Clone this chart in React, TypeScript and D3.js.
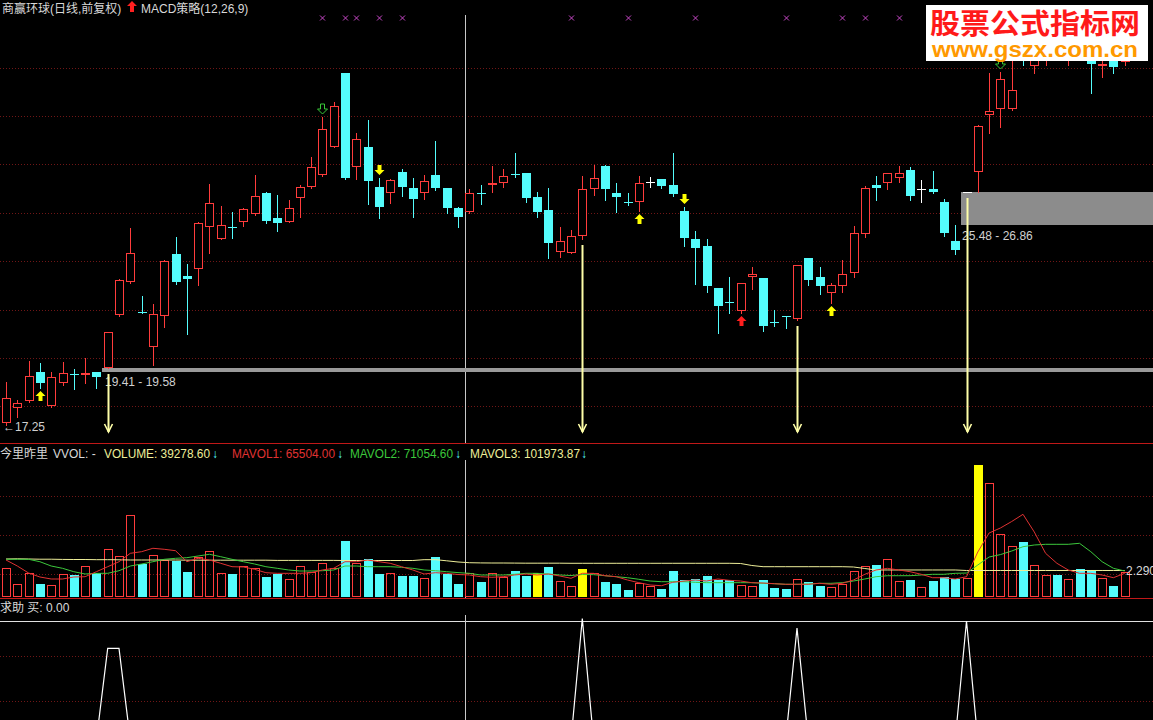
import React from 'react';
import * as d3 from 'd3';

const W = 1153;
const H = 720;

const opens = [
  17.32, 17.93, 18.22, 19.42, 18.02, 18.97, 19.34, 19.29, 19.41, 19.58,
  21.78, 23.15, 21.90, 20.47, 21.73, 24.30, 23.39, 23.68, 25.41, 24.92,
  25.42, 25.63, 25.94, 26.81, 25.77, 25.63, 26.60, 27.08, 27.55, 28.73,
  31.76, 27.90, 28.71, 27.08, 26.81, 27.67, 27.01, 26.81, 27.56, 27.01,
  26.19, 26.02, 26.83, 27.15, 27.22, 27.59, 27.63, 26.64, 26.12, 24.39,
  24.35, 25.05, 26.97, 27.93, 26.83, 26.46, 26.46, 27.26, 27.38, 27.15,
  26.07, 24.90, 24.63, 22.88, 22.30, 21.95, 23.36, 23.29, 21.50, 21.74,
  21.60, 24.12, 23.33, 22.70, 22.99, 23.50, 25.11, 27.15, 27.22, 27.42,
  27.77, 26.98, 26.97, 26.45, 24.83, 26.86, 27.70, 30.04, 30.28, 30.28,
  32.73, 32.07, 32.40, 32.81, 32.40, 32.81, 32.64, 32.07, 32.52, 32.23,
];
const highs = [
  19.01, 18.28, 19.87, 19.79, 19.42, 19.83, 19.55, 20.00, 19.41, 21.09,
  23.25, 25.37, 22.56, 22.23, 24.03, 25.01, 23.88, 25.60, 27.19, 26.28,
  26.03, 26.18, 27.56, 26.87, 26.74, 26.53, 27.15, 28.32, 29.97, 30.59,
  31.78, 29.28, 29.83, 27.42, 27.38, 27.81, 27.42, 27.56, 28.98, 27.03,
  26.25, 26.97, 27.15, 27.93, 27.80, 28.46, 27.65, 26.87, 27.01, 25.42,
  25.29, 27.52, 27.97, 27.97, 27.22, 26.81, 27.52, 27.49, 27.40, 28.46,
  26.25, 25.25, 24.90, 22.90, 23.36, 23.10, 23.77, 23.31, 21.98, 21.75,
  23.86, 24.14, 23.77, 23.11, 24.05, 25.45, 27.11, 27.52, 27.65, 27.93,
  27.88, 27.36, 27.73, 26.56, 25.48, 26.86, 29.61, 31.76, 31.83, 32.31,
  32.97, 32.93, 33.06, 33.14, 32.97, 33.06, 32.89, 32.48, 32.73, 32.73,
];
const lows = [
  17.25, 17.56, 18.20, 18.76, 17.97, 18.88, 18.72, 18.97, 18.76, 19.58,
  21.75, 23.10, 21.88, 19.71, 21.29, 23.06, 20.99, 23.02, 24.35, 24.90,
  24.96, 25.47, 25.92, 25.57, 25.26, 25.61, 25.81, 27.01, 27.53, 28.71,
  27.41, 27.38, 26.36, 25.77, 26.42, 26.71, 25.84, 26.56, 26.94, 25.98,
  25.40, 26.00, 26.35, 26.87, 27.08, 27.49, 26.46, 25.81, 24.12, 24.16,
  24.33, 24.90, 26.74, 26.53, 26.05, 26.32, 26.09, 27.08, 27.01, 26.69,
  24.63, 23.06, 22.74, 21.04, 21.85, 21.86, 22.84, 21.13, 21.32, 21.23,
  21.58, 23.02, 22.64, 22.26, 22.74, 23.33, 24.99, 26.53, 26.97, 27.28,
  26.53, 26.46, 26.83, 25.04, 24.30, 26.86, 26.87, 29.31, 29.53, 30.26,
  32.11, 31.79, 32.11, 32.40, 32.11, 32.36, 30.96, 31.60, 31.79, 32.11,
];
const closes = [
  18.35, 18.14, 19.25, 18.97, 19.21, 19.38, 19.33, 19.39, 19.21, 21.09,
  23.22, 24.35, 21.89, 21.82, 24.01, 23.15, 23.28, 25.58, 26.40, 25.49,
  25.41, 26.16, 26.69, 25.67, 25.59, 26.20, 27.08, 27.88, 29.45, 30.43,
  27.43, 29.04, 27.33, 26.25, 27.36, 27.08, 26.56, 27.33, 27.01, 26.19,
  25.84, 26.83, 26.82, 27.24, 27.52, 27.58, 26.62, 26.05, 24.76, 24.83,
  25.05, 26.97, 27.42, 26.98, 26.67, 26.45, 27.22, 27.26, 27.12, 26.78,
  24.97, 24.56, 22.99, 22.16, 22.29, 23.09, 23.47, 21.33, 21.49, 21.73,
  23.84, 23.22, 22.97, 23.02, 23.46, 25.15, 27.01, 27.04, 27.63, 27.63,
  26.71, 26.98, 26.84, 25.18, 24.46, 26.86, 29.59, 30.21, 31.52, 31.07,
  32.40, 32.64, 32.73, 32.48, 32.73, 32.48, 32.14, 32.15, 32.04, 32.52,
];

const volumes = [
  83600, 37900, 69000, 37900, 34100, 66100, 64100, 89400, 69000, 138900,
  118600, 238900, 95300, 121500, 107800, 104900, 72800, 116500, 134000, 69000,
  67000, 90300, 83600, 58300, 66100, 52400, 90300, 73700, 98200, 85400,
  163100, 99900, 110700, 67000, 69000, 61200, 61200, 54500, 116500, 67000,
  39278.6, 69000, 42800, 70800, 59100, 75700, 61200, 69000, 86500, 47500,
  32900, 81600, 69000, 43700, 37900, 20400, 39900, 32000, 23300, 75700,
  48600, 52400, 61200, 48600, 48600, 35000, 32000, 49500, 27100, 23300,
  51600, 43700, 32900, 28300, 37900, 74900, 90300, 93200, 109800, 46600,
  49500, 28300, 46600, 57400, 52400, 54500, 384500, 331200, 183500, 148600,
  159300, 92300, 64100, 64100, 51600, 81600, 78700, 54500, 32000, 72000,
];
const mavol1 = [
  107800, 90300, 69900, 58300, 52400, 52400, 58300, 59100, 73700, 88300,
  102800, 127300, 132000, 141900, 139000, 134900, 102800, 112700, 107800, 98200,
  88300, 87400, 80700, 70800, 69000, 69000, 69000, 70800, 78700, 83600,
  102800, 102800, 107800, 102800, 98200, 88300, 78700, 67000, 70800, 69000,
  65504, 64100, 59100, 57400, 59100, 64100, 67000, 64100, 67000, 61200,
  54500, 69000, 69000, 62000, 59100, 49500, 41700, 35000, 32900, 42800,
  46600, 49500, 46600, 52400, 48600, 46600, 41700, 40800, 38700, 37000,
  37000, 37000, 39900, 37000, 39900, 49500, 66100, 78700, 83600, 78700,
  73700, 66100, 56200, 56200, 52400, 59100, 131100, 186400, 201000, 219900,
  240900, 189300, 127300, 98200, 78700, 69000, 69000, 64100, 56200, 69000,
];
const mavol2 = [
  109800, 109800, 109800, 102800, 90300, 83600, 73700, 67000, 69000, 69000,
  76600, 90300, 96100, 102800, 109800, 112700, 114500, 119400, 124400, 117400,
  109800, 102800, 96100, 88300, 83600, 78700, 75700, 75700, 76600, 78700,
  90300, 90300, 88300, 88300, 88300, 86500, 83600, 78700, 76600, 73700,
  71054.6, 69000, 64100, 64100, 64100, 66100, 69000, 69000, 67000, 64100,
  62600, 65500, 65000, 62000, 59100, 56200, 51600, 46600, 44600, 44600,
  44600, 42800, 41700, 41700, 41700, 41700, 41700, 39900, 38700, 37000,
  37000, 37900, 39900, 39900, 41700, 46600, 52400, 59100, 62000, 62000,
  62000, 64100, 66100, 66100, 69000, 69900, 93200, 116500, 123500, 134000,
  146500, 151500, 153500, 153500, 153500, 156400, 132000, 102800, 83600, 75700,
];
const mavol3 = [
  110700, 111300, 110700, 110100, 110100, 109500, 109200, 109200, 108700, 108700,
  108400, 107800, 107800, 107800, 107800, 107800, 107200, 107200, 107200, 107200,
  107200, 107200, 107200, 107200, 106600, 106600, 106600, 106600, 106600, 106600,
  106300, 106300, 106300, 106300, 106300, 106300, 106300, 108700, 108700, 105500,
  101973.87, 99900, 99300, 99000, 99000, 98800, 98500, 98500, 98500, 98500,
  98200, 98200, 98200, 98200, 98200, 98200, 98200, 98200, 98200, 98200,
  98200, 98200, 98200, 98200, 98200, 97600, 91800, 88300, 88300, 88300,
  88300, 88300, 88300, 88300, 88300, 87400, 83000, 78700, 78700, 78700,
  78700, 78700, 78700, 78700, 78700, 77200, 77200, 77200, 77200, 77200,
  77200, 77200, 77200, 77200, 77200, 77200, 77200, 77200, 77200, 77200,
];
const helpBuy = [
  0, 0, 0, 0, 0, 0, 0, 0, 0, 0.77,
  0.77, 0, 0, 0, 0, 0, 0, 0, 0, 0,
  0, 0, 0, 0, 0, 0, 0, 0, 0, 0,
  0, 0, 0, 0, 0, 0, 0, 0, 0, 0,
  0, 0, 0, 0, 0, 0, 0, 0, 0, 0,
  0, 1.02, 0, 0, 0, 0, 0, 0, 0, 0,
  0, 0, 0, 0, 0, 0, 0, 0, 0, 0,
  0.94, 0, 0, 0, 0, 0, 0, 0, 0, 0,
  0, 0, 0, 0, 0, 1.0, 0, 0, 0, 0,
  0, 0, 0, 0, 0, 0, 0, 0, 0, 0,
];

const priceTicks = [18, 20, 22, 24, 26, 28, 30, 32];
const volTicks = [67000, 180600, 294200];
const helpTicks = [0.33, 0.71];
const helpRef = 1;
const yellowVolDays = [47, 51, 86];
const upYellowDays = [3, 56, 73];
const downYellowDays = [33, 60];
const upRedDays = [65];
const downGreenDays = [28, 88];
const signalDays = [9, 51, 70, 85];
const crossMarkDays = [28, 30, 31, 33, 35, 50, 55, 61, 69, 74, 76, 79];
const gapStarts = [9, 85];
const gapLows = [19.41, 25.48];
const gapHighs = [19.58, 26.86];
const minDay = 0;
const cursorDay = 40.6;

const RED = '#ff3c3c';
const CYAN = '#54fcfc';
const YEL = '#ffff00';
const PALE = '#ffffa8';
const GRID = '#701616';
const FONT = "'Liberation Sans', 'Noto Sans CJK SC', sans-serif";

export default function App() {
  const x = d3.scaleLinear().domain([0, 99]).range([6, 1124.7]);
  const cx = (i: number) => Math.round(x(i));
  const yP = d3.scaleLinear().domain([18, 32]).range([406.4, 67.6]);
  const yV = d3.scaleLinear().domain([0, 445700]).range([597, 444]);
  const yH = d3.scaleLinear().domain([0, 1]).range([740, 621]);

  const vLine = d3.line<number>().x((_, i) => x(i)).y((v) => yV(v));
  const hLine = d3.line<number>().x((_, i) => x(i)).y((v) => yH(v));
  const curX = Math.round(x(cursorDay)) + 0.5;

  const candles = opens.map((o, i) => {
    const c = closes[i];
    const h = highs[i];
    const l = lows[i];
    const c0 = cx(i);
    const top = Math.round(yP(Math.max(o, c)));
    const bot = Math.round(yP(Math.min(o, c)));
    const hy = Math.round(yP(h));
    const ly = Math.round(yP(l));
    if (c > o) {
      return (
        <g key={i}>
          <line x1={c0 + 0.5} x2={c0 + 0.5} y1={hy} y2={ly + 1} stroke={RED} />
          <rect x={c0 - 3.5} y={top + 0.5} width={8} height={Math.max(bot - top - 1, 1)} fill="#000" stroke={RED} />
        </g>
      );
    }
    if (c < o) {
      return (
        <g key={i}>
          <line x1={c0 + 0.5} x2={c0 + 0.5} y1={hy} y2={ly + 1} stroke={CYAN} />
          <rect x={c0 - 4} y={top} width={9} height={Math.max(bot - top, 1)} fill={CYAN} />
        </g>
      );
    }
    return (
      <g key={i}>
        <line x1={c0 + 0.5} x2={c0 + 0.5} y1={hy} y2={ly + 1} stroke="#ffffff" />
        <rect x={c0 - 4} y={top} width={9} height={1} fill="#ffffff" />
      </g>
    );
  });

  const volBars = volumes.map((v, i) => {
    const c0 = cx(i);
    const top = Math.round(yV(v));
    const base = 597;
    if (yellowVolDays.includes(i)) {
      return <rect key={i} x={c0 - 4} y={top} width={9} height={base - top} fill={YEL} />;
    }
    if (closes[i] < opens[i]) {
      return <rect key={i} x={c0 - 4} y={top} width={9} height={base - top} fill={CYAN} />;
    }
    return <rect key={i} x={c0 - 3.5} y={top + 0.5} width={8} height={base - top - 1} fill="none" stroke={RED} />;
  });

  const upArrow = (i: number, color: string, key: string) => {
    const c0 = cx(i) + 0.5;
    const t = Math.round(yP(lows[i])) + 3;
    return (
      <polygon key={key} fill={color}
        points={`${c0},${t} ${c0 + 5},${t + 5} ${c0 + 2},${t + 5} ${c0 + 2},${t + 10} ${c0 - 2},${t + 10} ${c0 - 2},${t + 5} ${c0 - 5},${t + 5}`} />
    );
  };
  const downArrow = (i: number, color: string, key: string, hollow = false) => {
    const c0 = cx(i) + 0.5;
    const b = Math.round(yP(highs[i])) - 3;
    const pts = `${c0},${b} ${c0 + 5},${b - 5} ${c0 + 2},${b - 5} ${c0 + 2},${b - 10} ${c0 - 2},${b - 10} ${c0 - 2},${b - 5} ${c0 - 5},${b - 5}`;
    return hollow ? (
      <polygon key={key} fill="none" stroke={color} strokeWidth={1} points={pts} />
    ) : (
      <polygon key={key} fill={color} points={pts} />
    );
  };

  return (
    <svg width={W} height={H} style={{ position: 'fixed', left: 0, top: 0, background: '#000' }} fontFamily={FONT}>
      <rect x={0} y={0} width={W} height={H} fill="#000" />
      {/* grids */}
      {priceTicks.map((t) => (
        <line key={'pg' + t} x1={0} x2={W} y1={Math.round(yP(t)) + 0.5} y2={Math.round(yP(t)) + 0.5}
          stroke={GRID} strokeDasharray="1,2" />
      ))}
      {volTicks.map((t) => (
        <line key={'vg' + t} x1={0} x2={W} y1={Math.round(yV(t)) + 0.5} y2={Math.round(yV(t)) + 0.5}
          stroke={GRID} strokeDasharray="1,2" />
      ))}
      {helpTicks.map((t) => (
        <line key={'hg' + t} x1={0} x2={W} y1={Math.round(yH(t)) + 0.5} y2={Math.round(yH(t)) + 0.5}
          stroke={GRID} strokeDasharray="1,2" />
      ))}

      {/* panel separators */}
      <line x1={0} x2={W} y1={443.5} y2={443.5} stroke="#c01818" />
      <line x1={0} x2={W} y1={598.5} y2={598.5} stroke="#c01818" />
      <line x1={0} x2={W} y1={Math.round(yH(helpRef)) + 0.5} y2={Math.round(yH(helpRef)) + 0.5} stroke="#e0e0e0" />

      {/* cursor */}
      <line x1={curX} x2={curX} y1={15} y2={443} stroke="#c8c8c8" />
      <line x1={curX} x2={curX} y1={460} y2={598} stroke="#c8c8c8" />
      <line x1={curX} x2={curX} y1={615} y2={H} stroke="#c8c8c8" />

      {/* gaps */}
      {gapStarts.map((s, k) => (
        <rect key={'gap' + k} x={cx(s) - 6} y={Math.round(yP(gapHighs[k]))} width={W - cx(s) + 6}
          height={Math.max(Math.round(yP(gapLows[k])) - Math.round(yP(gapHighs[k])), 3)} fill={k === 0 ? '#9a9a9a' : '#8c8c8c'} />
      ))}

      {candles}

      {/* gap labels */}
      <text x={cx(gapStarts[0]) - 3} y={Math.round(yP(gapLows[0])) + 14} fill="#d0d0d0" fontSize={12}>
        {`${gapLows[0].toFixed(2)} - ${gapHighs[0].toFixed(2)}`}
      </text>
      <text x={cx(gapStarts[1]) - 5} y={Math.round(yP(gapLows[1])) + 15} fill="#d0d0d0" fontSize={12}>
        {`${gapLows[1].toFixed(2)} - ${gapHighs[1].toFixed(2)}`}
      </text>
      <text x={cx(minDay) - 3} y={Math.round(yP(lows[minDay])) + 6} fill="#d0d0d0" fontSize={12}>
        {`←${lows[minDay].toFixed(2)}`}
      </text>

      {/* signal lines */}
      {signalDays.map((i) => {
        const c0 = cx(i) + 0.5;
        const t = Math.round(yP(lows[i])) + 6;
        return (
          <g key={'sig' + i} stroke={PALE} strokeWidth={2} fill="none">
            <line x1={c0} x2={c0} y1={t} y2={432} />
            <polyline points={`${c0 - 4},${424} ${c0},${432} ${c0 + 4},${424}`} strokeWidth={1.6} />
          </g>
        );
      })}

      {upYellowDays.map((i) => upArrow(i, YEL, 'uy' + i))}
      {upRedDays.map((i) => upArrow(i, '#ff1e1e', 'ur' + i))}
      {downYellowDays.map((i) => downArrow(i, YEL, 'dy' + i))}
      {downGreenDays.map((i) => downArrow(i, '#38c838', 'dg' + i, true))}

      {crossMarkDays.map((i) => {
        const c0 = cx(i) + 0.5;
        return (
          <g key={'cm' + i} stroke="#c848c8" strokeWidth={1}>
            <line x1={c0 - 2.5} x2={c0 + 2.5} y1={15.5} y2={20.5} />
            <line x1={c0 + 2.5} x2={c0 - 2.5} y1={15.5} y2={20.5} />
          </g>
        );
      })}

      {/* volume */}
      {volBars}
      <path d={vLine(mavol3) || ''} fill="none" stroke="#eeee99" strokeWidth={1} />
      <path d={vLine(mavol2) || ''} fill="none" stroke="#3cc83c" strokeWidth={1} />
      <path d={vLine(mavol1) || ''} fill="none" stroke="#e03232" strokeWidth={1} />
      <text x={1126} y={575} fill="#d8d8d8" fontSize={12}>2.290</text>

      {/* help panel */}
      <clipPath id="helpClip">
        <rect x={0} y={612} width={W} height={H - 612} />
      </clipPath>
      <path d={hLine(helpBuy) || ''} fill="none" stroke="#ffffff" strokeWidth={1.2} clipPath="url(#helpClip)" />

      {/* headers */}
      <text x={2} y={13} fill="#d8d8d8" fontSize={12}>商赢环球(日线,前复权)</text>
      <polygon points="132,1 137,6 134,6 134,12 130,12 130,6 127,6" fill="#ff2020" />
      <text x={141} y={13} fill="#d8d8d8" fontSize={12}>MACD策略(12,26,9)</text>

      <text x={0} y={458} fill="#d8d8d8" fontSize={12}>今里昨里</text>
      <text x={53} y={458} fill="#d8d8d8" fontSize={12}>VVOL: -</text>
      <text x={104} y={458} fill="#eeee99" fontSize={12} textLength={106} lengthAdjust="spacingAndGlyphs">{`VOLUME: ${volumes[40].toFixed(2)}`}</text>
      <text x={212} y={458} fill={CYAN} fontSize={12}>↓</text>
      <text x={232} y={458} fill="#e03232" fontSize={12} textLength={103} lengthAdjust="spacingAndGlyphs">{`MAVOL1: ${mavol1[40].toFixed(2)}`}</text>
      <text x={337} y={458} fill={CYAN} fontSize={12}>↓</text>
      <text x={350} y={458} fill="#3cc83c" fontSize={12} textLength={103} lengthAdjust="spacingAndGlyphs">{`MAVOL2: ${mavol2[40].toFixed(2)}`}</text>
      <text x={455} y={458} fill={CYAN} fontSize={12}>↓</text>
      <text x={470} y={458} fill="#eeee99" fontSize={12} textLength={110} lengthAdjust="spacingAndGlyphs">{`MAVOL3: ${mavol3[40].toFixed(2)}`}</text>
      <text x={581} y={458} fill={CYAN} fontSize={12}>↓</text>

      <text x={0} y={612} fill="#d8d8d8" fontSize={12}>求助 买: 0.00</text>

      {/* watermark */}
      <rect x={926} y={5} width={222} height={56} fill="#ffffff" />
      <text x={930} y={34} fill="#ff1a1a" fontSize={28} fontWeight="bold" textLength={210}
        lengthAdjust="spacingAndGlyphs" fontFamily="'Noto Sans CJK SC', sans-serif">股票公式指标网</text>
      <text x={932} y={57} fill="#ff9900" fontSize={22} fontWeight="bold" textLength={206}
        lengthAdjust="spacingAndGlyphs">www.gszx.com.cn</text>
    </svg>
  );
}
